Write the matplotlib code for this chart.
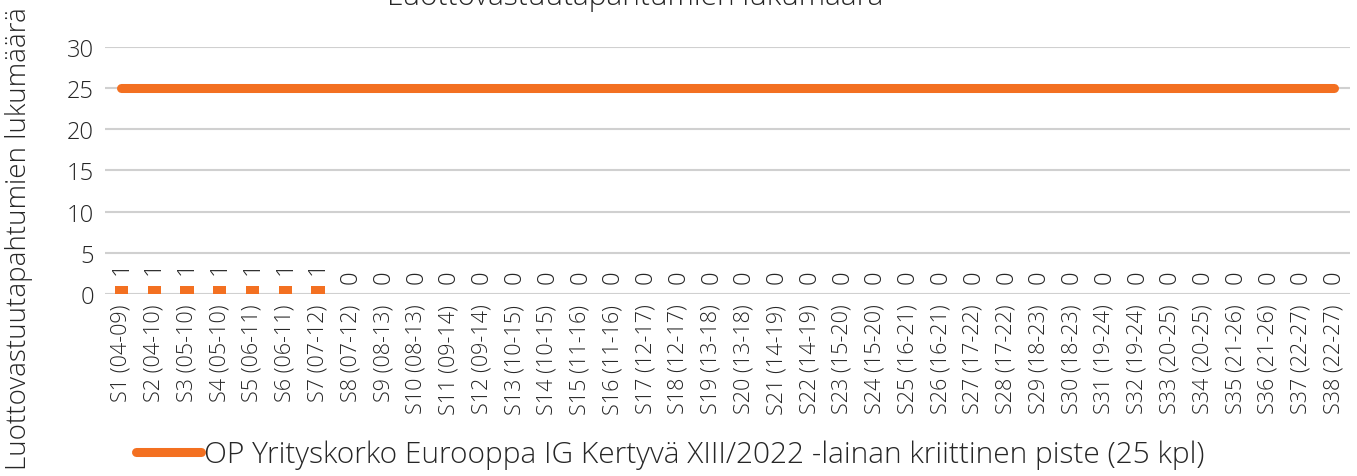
import numpy as np
import matplotlib.pyplot as plt

# Data
categories = [
    "S1 (04-09)", "S2 (04-10)", "S3 (05-10)", "S4 (05-10)", "S5 (06-11)",
    "S6 (06-11)", "S7 (07-12)", "S8 (07-12)", "S9 (08-13)", "S10 (08-13)",
    "S11 (09-14)", "S12 (09-14)", "S13 (10-15)", "S14 (10-15)", "S15 (11-16)",
    "S16 (11-16)", "S17 (12-17)", "S18 (12-17)", "S19 (13-18)", "S20 (13-18)",
    "S21 (14-19)", "S22 (14-19)", "S23 (15-20)", "S24 (15-20)", "S25 (16-21)",
    "S26 (16-21)", "S27 (17-22)", "S28 (17-22)", "S29 (18-23)", "S30 (18-23)",
    "S31 (19-24)", "S32 (19-24)", "S33 (20-25)", "S34 (20-25)", "S35 (21-26)",
    "S36 (21-26)", "S37 (22-27)", "S38 (22-27)",
]
events = [1, 1, 1, 1, 1, 1, 1] + [0] * 31
critical = [25] * 38

title = "Luottovastuutapahtumien lukumäärä"
ylabel = "Luottovastuutapahtumien lukumäärä"
legend_label = "OP Yrityskorko Eurooppa IG Kertyvä XIII/2022 -lainan kriittinen piste (25 kpl)"

orange = "#f37021"
text_col = "#262626"

plt.rcParams["font.family"] = ["Open Sans", "DejaVu Sans"]
plt.rcParams["font.weight"] = "light"

fig = plt.figure(figsize=(13.57, 4.77), dpi=100)
ax = fig.add_axes([0.0774, 0.382, 0.9176, 0.517])

x = np.arange(len(categories))
ax.bar(x, events, width=0.4, color=orange, zorder=3)
ax.plot(x, critical, color=orange, lw=6.5, solid_capstyle="round", zorder=4,
        label=legend_label)

# data labels above the bars
for xi, v in zip(x, events):
    ax.annotate(str(v), (xi, v), xytext=(0, 8), textcoords="offset points",
                rotation=90, ha="center", va="bottom", fontsize=17,
                color=text_col)

ax.set_xlim(-0.5, len(categories) - 0.5)
ax.set_ylim(0, 30)
ax.set_yticks(range(0, 31, 5))
ax.grid(axis="y", color="#d0d0d0", lw=1.5, zorder=0)
for s in ax.spines.values():
    s.set_visible(False)
ax.tick_params(axis="both", length=0)
ax.tick_params(axis="y", labelsize=17, labelcolor=text_col, pad=8)
ax.set_xticks(x)
ax.set_xticklabels(categories, rotation=90, fontsize=15.5, color=text_col)
ax.tick_params(axis="x", pad=7)

fig.text(0.004, 0.5, ylabel, rotation=90, ha="left", va="center",
         fontsize=20, color=text_col)
fig.text(0.468, 0.99, title, ha="center", va="baseline", fontsize=21.5,
         color=text_col)

fig.legend(loc="center", bbox_to_anchor=(0.494, 0.045), frameon=False,
           fontsize=21.5, handlelength=2.2, handletextpad=0.1,
           labelcolor=text_col)

fig.savefig("out.png", dpi=100)
